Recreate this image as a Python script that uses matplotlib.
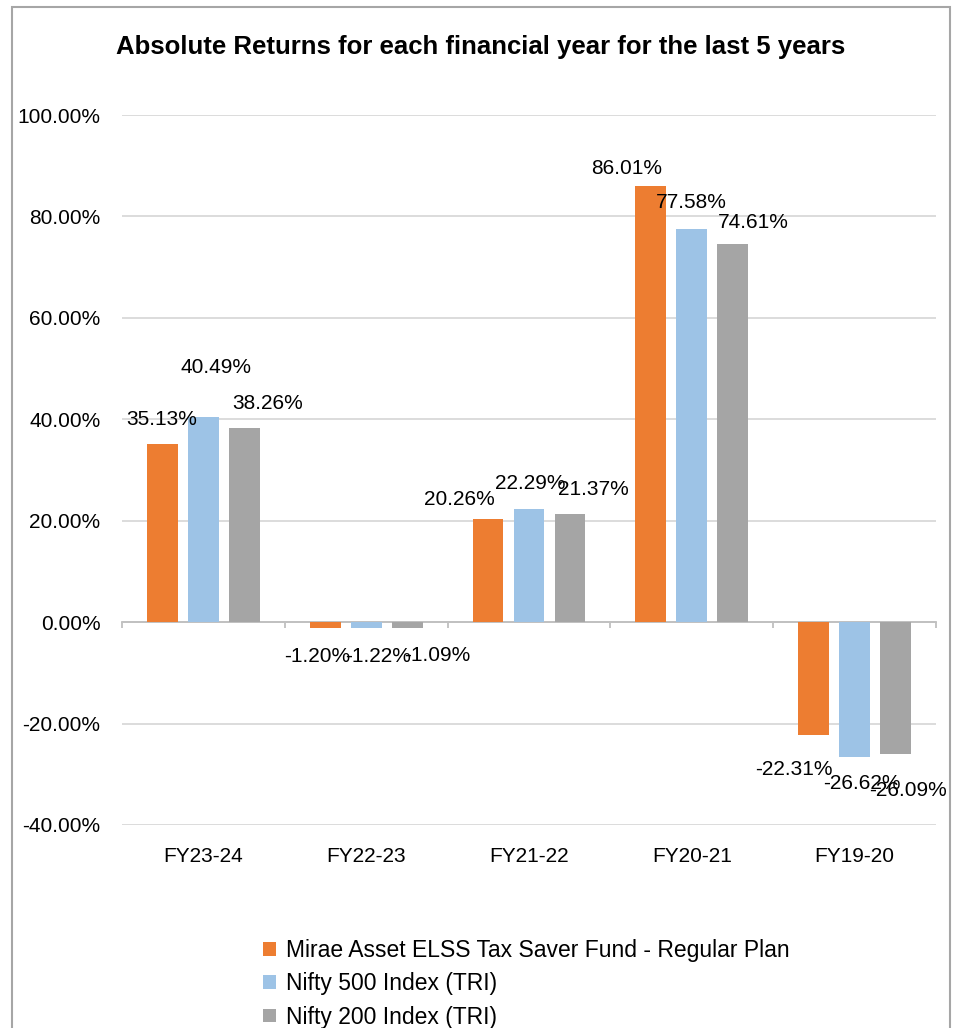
import matplotlib
matplotlib.use("Agg")
import matplotlib.pyplot as plt
from matplotlib.patches import Rectangle
from matplotlib.ticker import FuncFormatter, FixedLocator
import numpy as np

plt.rcParams['font.family'] = ['Liberation Sans', 'DejaVu Sans']

# data
years = ['FY23-24', 'FY22-23', 'FY21-22', 'FY20-21', 'FY19-20']
series_names = ['Mirae Asset ELSS Tax Saver Fund - Regular Plan',
                'Nifty 500 Index (TRI)',
                'Nifty 200 Index (TRI)']
fund = [35.13, -1.20, 20.26, 86.01, -22.31]
nifty500 = [40.49, -1.22, 22.29, 77.58, -26.62]
nifty200 = [38.26, -1.09, 21.37, 74.61, -26.09]
y_ticks = [-40, -20, 0, 20, 40, 60, 80, 100]

colors = ['#ED7D31', '#9DC3E6', '#A5A5A5']

# label nudges in pixels (dx, dy), like Excel placed them
label_offsets = [
    [(-1, 24), (13, 49), (23, 25)],
    [(-8, -28), (12, -28), (30, -28)],
    [(-29, 20), (1, 26), (23, 24)],
    [(-24, 17), (0, 26), (20, 21)],
    [(-20, -34), (7, -26), (12, -36)],
]

W, H = 954, 1028
fig = plt.figure(figsize=(W / 100, H / 100), dpi=100)
ax = fig.add_axes([122 / W, 1 - 825 / H, (936 - 122) / W, (825 - 115) / H])

x = np.arange(len(years))
step = 0.252
width = 0.19
bars = []
for j, vals in enumerate([fund, nifty500, nifty200]):
    b = ax.bar(x + (j - 1) * step, vals, width, color=colors[j], label=series_names[j], zorder=3)
    bars.append(b)
    for i, v in enumerate(vals):
        dx, dy = label_offsets[i][j]
        ax.annotate(f'{v:.2f}%', (x[i] + (j - 1) * step, v), xytext=(dx, dy),
                    textcoords='offset pixels', ha='center', va='center',
                    fontsize=15, color='#000000', zorder=4)

ax.set_xlim(-0.5, len(years) - 0.5)
ax.set_ylim(-40, 100)
ax.set_yticks(y_ticks)
ax.yaxis.set_major_formatter(FuncFormatter(lambda v, p: f'{v:.2f}%'))
ax.tick_params(axis='y', length=0, pad=15.5, labelsize=15)
ax.yaxis.grid(True, color='#D9D9D9', lw=1.3)
ax.set_axisbelow(True)

for s in ['top', 'left', 'right']:
    ax.spines[s].set_visible(False)
ax.spines['bottom'].set_position(('data', 0))
ax.spines['bottom'].set_color('#BFBFBF')
ax.spines['bottom'].set_linewidth(1.3)
ax.set_xticks([])
ax.xaxis.set_minor_locator(FixedLocator(np.arange(len(years) + 1) - 0.5))
ax.tick_params(axis='x', which='minor', length=4.5, width=1.3, color='#BFBFBF', direction='out')

for i, name in enumerate(years):
    ax.text(x[i], -0.0437, name, transform=ax.get_xaxis_transform(),
            ha='center', va='center', fontsize=15)

fig.text(481 / W, 1 - 47 / H, 'Absolute Returns for each financial year for the last 5 years',
         ha='center', va='center', fontsize=18.5, fontweight='bold')

fig.legend(handles=bars, loc='upper left', bbox_to_anchor=(263 / W, 1 - 939 / H),
           frameon=False, fontsize=16.5, handlelength=0.55, handleheight=0.55,
           handletextpad=0.45, labelspacing=0.45, borderpad=0, borderaxespad=0)

fig.patches.append(Rectangle((12 / W, -0.05), (950 - 12) / W, 1.05 - 7 / H,
                             transform=fig.transFigure, fill=False,
                             edgecolor='#A6A6A6', lw=1.5))

fig.savefig('out.png', dpi=100)
